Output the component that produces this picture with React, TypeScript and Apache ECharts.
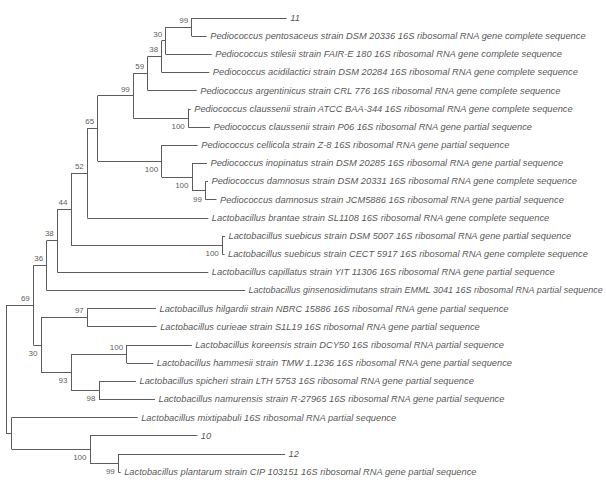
import React, { useEffect, useRef } from "react";
import * as echarts from "echarts";

// Tip (leaf) labels, top to bottom
const tipNames: string[] = [
  "11",
  "Pediococcus pentosaceus strain DSM 20336 16S ribosomal RNA gene complete sequence",
  "Pediococcus stilesii strain FAIR-E 180 16S ribosomal RNA gene complete sequence",
  "Pediococcus acidilactici strain DSM 20284 16S ribosomal RNA gene complete sequence",
  "Pediococcus argentinicus strain CRL 776 16S ribosomal RNA gene complete sequence",
  "Pediococcus claussenii strain ATCC BAA-344 16S ribosomal RNA gene complete sequence",
  "Pediococcus claussenii strain P06 16S ribosomal RNA gene partial sequence",
  "Pediococcus cellicola strain Z-8 16S ribosomal RNA gene partial sequence",
  "Pediococcus inopinatus strain DSM 20285 16S ribosomal RNA gene partial sequence",
  "Pediococcus damnosus strain DSM 20331 16S ribosomal RNA gene complete sequence",
  "Pediococcus damnosus strain JCM5886 16S ribosomal RNA gene partial sequence",
  "Lactobacillus brantae strain SL1108 16S ribosomal RNA gene complete sequence",
  "Lactobacillus suebicus strain DSM 5007 16S ribosomal RNA gene partial sequence",
  "Lactobacillus suebicus strain CECT 5917 16S ribosomal RNA gene complete sequence",
  "Lactobacillus capillatus strain YIT 11306 16S ribosomal RNA gene partial sequence",
  "Lactobacillus ginsenosidimutans strain EMML 3041 16S ribosomal RNA partial sequence",
  "Lactobacillus hilgardii strain NBRC 15886 16S ribosomal RNA gene partial sequence",
  "Lactobacillus curieae strain S1L19 16S ribosomal RNA gene partial sequence",
  "Lactobacillus koreensis strain DCY50 16S ribosomal RNA partial sequence",
  "Lactobacillus hammesii strain TMW 1.1236 16S ribosomal RNA gene partial sequence",
  "Lactobacillus spicheri strain LTH 5753 16S ribosomal RNA gene partial sequence",
  "Lactobacillus namurensis strain R-27965 16S ribosomal RNA gene partial sequence",
  "Lactobacillus mixtipabuli 16S ribosomal RNA partial sequence",
  "10",
  "12",
  "Lactobacillus plantarum strain CIP 103151 16S ribosomal RNA gene partial sequence",
];

// Cumulative branch depth of each tip from the root
const tipDepths: number[] = [
  280.7, 200.7, 205.7, 203.3, 190.7, 184.7, 204, 191.7, 201, 202, 210.5, 202.3,
  219, 218.5, 202.3, 239, 150, 150.7, 185.7, 147.3, 130, 149, 131.7, 191.3, 279,
  114.7,
];

// Internal nodes: depth from root, children ("t#" = tip, "n#" = node), bootstrap support
const nodeDepths: number[] = [
  0, 27.3, 40.7, 51.3, 65, 81.3, 91.7, 127.3, 141.7, 155.7, 159.7, 185.7, 182.3,
  155.7, 186, 199.5, 216.3, 35, 81.3, 65, 120.7, 93, 5.7, 84, 112.3,
];
const nodeChildren: string[][] = [
  ["n1", "n22"],
  ["n2", "n17"],
  ["n3", "t15"],
  ["n4", "t14"],
  ["n5", "n16"],
  ["n6", "t11"],
  ["n7", "n13"],
  ["n8", "n12"],
  ["n9", "t4"],
  ["n10", "t3"],
  ["n11", "t2"],
  ["t0", "t1"],
  ["t5", "t6"],
  ["t7", "n14"],
  ["t8", "n15"],
  ["t9", "t10"],
  ["t12", "t13"],
  ["n18", "n19"],
  ["t16", "t17"],
  ["n20", "n21"],
  ["t18", "t19"],
  ["t20", "t21"],
  ["t22", "n23"],
  ["t23", "n24"],
  ["t24", "t25"],
];
const nodeSupport: (number | null)[] = [
  null, 69, 36, 38, 44, 52, 65, 99, 59, 38, 30, 99, 100, 100, 100, 99, 100, 30,
  97, 93, 100, 98, null, 100, 99,
];
// where the support label sits relative to its node
const supportPlacement: string[] = [
  "", "up", "up", "up", "up", "up", "up", "up", "up", "up", "up", "up", "down",
  "down", "down", "down", "down", "down", "up", "down", "up", "down", "", "down",
  "down",
];

const TIP_FONT = "Liberation Sans, Arial, sans-serif";
const TIP_SIZE = 9.3;
const CHART_W = 606;

function buildTree() {
  const nodeY: number[] = new Array(nodeDepths.length).fill(0);
  const getY = (ref: string): number => {
    const idx = parseInt(ref.slice(1), 10);
    if (ref[0] === "t") return idx;
    const ch = nodeChildren[idx];
    const y = (getY(ch[0]) + getY(ch[ch.length - 1])) / 2;
    nodeY[idx] = y;
    return y;
  };
  getY("n0");
  const getX = (ref: string) => {
    const idx = parseInt(ref.slice(1), 10);
    return ref[0] === "t" ? tipDepths[idx] : nodeDepths[idx];
  };
  const refY = (ref: string) => {
    const idx = parseInt(ref.slice(1), 10);
    return ref[0] === "t" ? idx : nodeY[idx];
  };
  const segs: { coords: number[][] }[] = [];
  nodeChildren.forEach((ch, i) => {
    const x = nodeDepths[i];
    segs.push({ coords: [[x, refY(ch[0])], [x, refY(ch[ch.length - 1])]] });
    ch.forEach((c) => {
      segs.push({ coords: [[x, refY(c)], [getX(c), refY(c)]] });
    });
  });
  return { nodeY, segs };
}

export default function App() {
  const ref = useRef<HTMLDivElement>(null);
  useEffect(() => {
    if (!ref.current) return;
    const chart = echarts.init(ref.current, undefined, { renderer: "svg" });
    const { nodeY, segs } = buildTree();

    const cvs = document.createElement("canvas");
    const ctx = cvs.getContext("2d");
    const fitSize = (text: string, startPx: number) => {
      if (!ctx) return TIP_SIZE;
      ctx.font = `italic ${TIP_SIZE}px ${TIP_FONT}`;
      const w = ctx.measureText(text).width;
      const avail = CHART_W - 2 - startPx;
      return w > avail ? Math.floor((TIP_SIZE * avail * 10) / w) / 10 : TIP_SIZE;
    };

    const tipData = tipNames.map((n, i) => {
      const item: any = { value: [tipDepths[i], i, n] };
      return item;
    });

    const upData: any[] = [];
    const downData: any[] = [];
    nodeSupport.forEach((s, i) => {
      if (s === null) return;
      const d = [nodeDepths[i], nodeY[i], String(s)];
      if (supportPlacement[i] === "up") upData.push(d);
      else downData.push(d);
    });
    const supportLabel = (dy: number) => ({
      show: true,
      position: "left",
      distance: 3,
      offset: [0, dy],
      formatter: (p: any) => p.value[2],
      fontFamily: "Liberation Sans, Arial, sans-serif",
      fontSize: 8,
      color: "#2b2b2b",
    });
    chart.setOption({
      animation: false,
      grid: { left: 6, right: 0, top: 18, bottom: 16 },
      xAxis: { type: "value", min: 0, max: 600, show: false },
      yAxis: { type: "value", min: 0, max: 25, inverse: true, show: false },
      series: [
        {
          type: "lines",
          coordinateSystem: "cartesian2d",
          data: segs,
          lineStyle: { color: "#5c5c5c", width: 1, opacity: 1 },
          silent: true,
          clip: false,
        },
        {
          type: "scatter",
          data: tipData,
          symbolSize: 1,
          itemStyle: { color: "transparent" },
          clip: false,
          label: {
            show: true,
            position: "right",
            distance: 3,
            formatter: (p: any) => p.value[2],
            fontFamily: TIP_FONT,
            fontStyle: "italic",
            fontSize: TIP_SIZE,
            color: "#262626",
          },
        },
        {
          type: "scatter",
          data: upData,
          symbolSize: 1,
          itemStyle: { color: "transparent" },
          clip: false,
          label: supportLabel(-6.7),
        },
        {
          type: "scatter",
          data: downData,
          symbolSize: 1,
          itemStyle: { color: "transparent" },
          clip: false,
          label: supportLabel(8.5),
        },
      ],
    });

    // shrink any tip label that would run past the right edge
    const adjusted = tipData.map((item: any, i: number) => {
      const px = chart.convertToPixel({ gridIndex: 0 }, [tipDepths[i], i]) as number[];
      const size = fitSize(tipNames[i], px[0] + 3);
      return size < TIP_SIZE ? { ...item, label: { fontSize: size } } : item;
    });
    chart.setOption({ series: [{}, { data: adjusted }] });

    return () => chart.dispose();
  }, []);
  return (
    <div
      ref={ref}
      style={{ position: "fixed", left: 0, top: 0, width: 606, height: 488, background: "#fff" }}
    />
  );
}
